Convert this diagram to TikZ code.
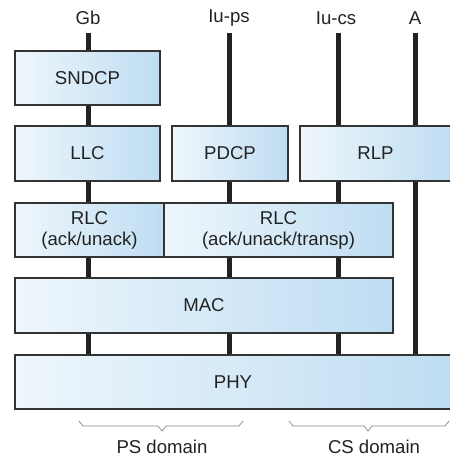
\documentclass[tikz,border=0pt]{standalone}
\usepackage{fontspec}
\setmainfont{Liberation Sans}
\usetikzlibrary{calc}
\definecolor{boxleft}{HTML}{EEF6FC}
\definecolor{boxright}{HTML}{BEDDF2}
\definecolor{edge}{HTML}{333333}
\definecolor{ink}{HTML}{222222}
\tikzset{
  layer/.style={draw=edge, line width=1.1pt, left color=boxleft, right color=boxright,
    inner sep=0pt, align=center, text=ink, font=\fontsize{18.6}{21}\selectfont},
  bus/.style={draw=ink, line width=5pt},
  iface/.style={text=ink, font=\fontsize{18.6}{21}\selectfont, inner sep=0pt},
  bracket/.style={draw=edge!60, line width=0.7pt},
}
\begin{document}
\begin{tikzpicture}[x=1pt, y=-1pt]
\useasboundingbox (0,0) rectangle (449,462);

% interface names at the top
\node[iface] (gb)   at (88,18)  {Gb};
\node[iface] (iups) at (229,18) {Iu-ps};
\node[iface] (iucs) at (336,18) {Iu-cs};
\node[iface] (a)    at (415,18) {A};
\coordinate (gbtop)   at (88,33);
\coordinate (iupstop) at (229,33);
\coordinate (iucstop) at (338,33);
\coordinate (atop)    at (415,33);

% protocol layers
\node[layer, minimum width=145pt, minimum height=54pt] (sndcp) at (87.5,78) {SNDCP};
\node[layer, minimum width=145pt, minimum height=55pt] (llc)   at (87.5,153.5) {LLC};
\node[layer, minimum width=116pt, minimum height=55pt] (pdcp)  at (230,153.5) {PDCP};
\node[layer, minimum width=155pt, minimum height=55pt] (rlp)   at (377.5,153.5) {\hspace*{-4pt}RLP};
\node[layer, minimum width=149pt, minimum height=54pt] (rlc1)  at (89.5,230) {RLC\\(ack/unack)};
\node[layer, minimum width=229pt, minimum height=54pt] (rlc2)  at (278.5,230) {RLC\\(ack/unack/transp)};
\node[layer, minimum width=378pt, minimum height=55pt] (mac)   at (204,305.5) {MAC};
\node[layer, minimum width=440pt, minimum height=54pt] (phy)   at (235,382) {\hspace*{-4pt}PHY};

% Gb path
\draw[bus] (gbtop) -- (sndcp.north -| gbtop);
\draw[bus] (sndcp.south -| gbtop) -- (llc.north -| gbtop);
\draw[bus] (llc.south -| gbtop) -- (rlc1.north -| gbtop);
\draw[bus] (rlc1.south -| gbtop) -- (mac.north -| gbtop);
\draw[bus] (mac.south -| gbtop) -- (phy.north -| gbtop);

% Iu-ps path
\draw[bus] (iupstop) -- (pdcp.north -| iupstop);
\draw[bus] (pdcp.south -| iupstop) -- (rlc2.north -| iupstop);
\draw[bus] (rlc2.south -| iupstop) -- (mac.north -| iupstop);
\draw[bus] (mac.south -| iupstop) -- (phy.north -| iupstop);

% Iu-cs path
\draw[bus] (iucstop) -- (rlp.north -| iucstop);
\draw[bus] (rlp.south -| iucstop) -- (rlc2.north -| iucstop);
\draw[bus] (rlc2.south -| iucstop) -- (mac.north -| iucstop);
\draw[bus] (mac.south -| iucstop) -- (phy.north -| iucstop);

% A path
\draw[bus] (atop) -- (rlp.north -| atop);
\draw[bus] (rlp.south -| atop) -- (phy.north -| atop);

% domain braces
\draw[bracket] (79,421) -- (83,426) -- (158,426) -- (162,431) -- (166,426) -- (239,426) -- (243,421);
\draw[bracket] (289,421) -- (293,426) -- (364,426) -- (368,431) -- (372,426) -- (445,426) -- (449,421);
\node[iface] (ps) at (162,447) {PS domain};
\node[iface] (cs) at (374,447) {CS domain};
\end{tikzpicture}
\end{document}
